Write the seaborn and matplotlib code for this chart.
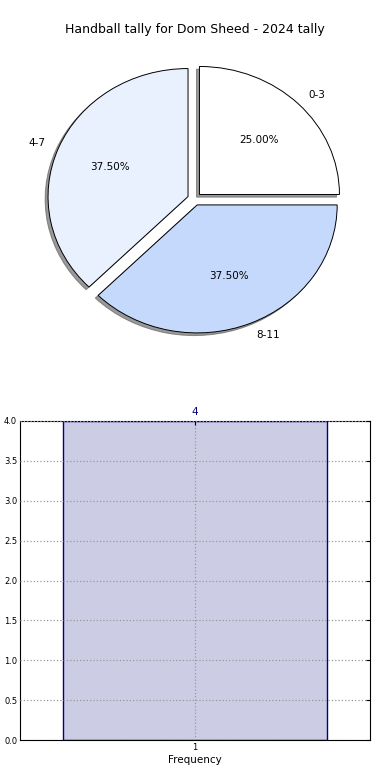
import matplotlib
matplotlib.use('Agg')
import matplotlib.pyplot as plt
import seaborn as sns
import pandas as pd

# data
tally_labels = ['0-3', '4-7', '8-11']
tally_counts = [2, 3, 3]
slice_colors = ['#ffffff', '#eaf1fe', '#c5d9fd']

freq_cats = ['1']
freq_vals = [4]

sns.set_style('white')
plt.rcParams['font.family'] = ['DejaVu Sans']
plt.rcParams['text.color'] = 'black'
plt.rcParams['xtick.color'] = 'black'
plt.rcParams['ytick.color'] = 'black'
plt.rcParams['axes.labelcolor'] = 'black'

fig = plt.figure(figsize=(3.9, 7.8), dpi=100)

# === pie (not forced round, like the old default) ===
ax1 = fig.add_axes([19.5 / 390, 1 - 359 / 780, 350 / 390, 320 / 780])
ax1.pie(tally_counts, labels=tally_labels, colors=slice_colors,
        autopct='%.2f%%', startangle=0, explode=[0.05] * 3,
        shadow={'ox': -0.015, 'oy': -0.015, 'color': '#555555', 'alpha': 0.6},
        wedgeprops={'edgecolor': 'black', 'linewidth': 0.7},
        textprops={'fontsize': 7.5, 'color': 'black'})
ax1.set_aspect('auto')
ax1.set_xlim(-1.25, 1.25)
ax1.set_ylim(-1.25, 1.25)
fig.text(0.5, 1 - 30 / 780, 'Handball tally for Dom Sheed - 2024 tally',
         ha='center', va='center', fontsize=9, color='black')

# === bar ===
ax2 = fig.add_axes([20 / 390, 1 - 740 / 780, 350 / 390, 319 / 780])
df = pd.DataFrame({'cat': freq_cats, 'val': freq_vals})
sns.barplot(data=df, x='cat', y='val', ax=ax2, width=0.755,
            color=(0, 0, 0.5, 0.2), edgecolor='navy', linewidth=1,
            saturation=1)
for p in ax2.patches:
    p.set_facecolor((0, 0, 0.5, 0.2))
ax2.set_xlim(-0.5, 0.5)
ax2.set_ylim(0, 4)
ax2.set_yticks([i * 0.5 for i in range(9)])
ax2.tick_params(direction='in', labelsize=6, top=True, right=True,
                length=3, pad=2)
ax2.grid(True, linestyle=':', color='#999999', linewidth=0.9)
ax2.set_axisbelow(False)
for s in ax2.spines.values():
    s.set_color('black')
    s.set_linewidth(0.8)
ax2.set_xlabel('Frequency', fontsize=7.5, labelpad=2)
ax2.set_ylabel('')
for i, v in enumerate(freq_vals):
    ax2.text(i, v + 0.05, str(v), ha='center', va='bottom', color='navy',
             fontsize=7.5)

fig.savefig('out.png', dpi=100)
